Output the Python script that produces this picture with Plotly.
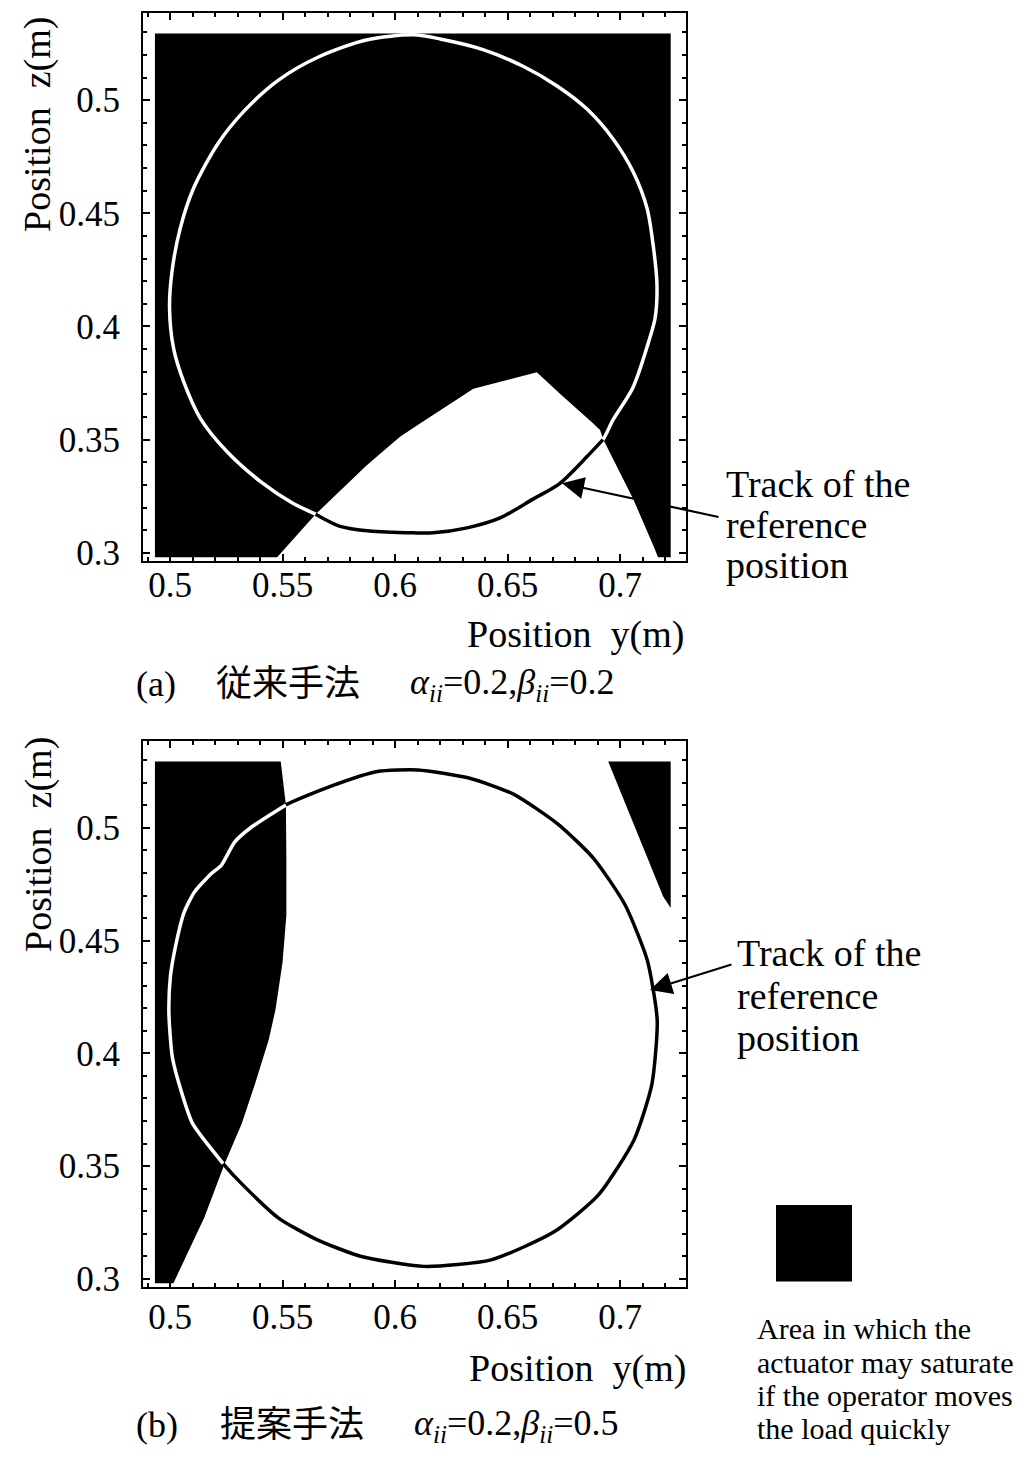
import plotly.graph_objects as go

W, H = 1026, 1461
def px(x):
    return x / W
def py(y):
    return 1 - y / H

# ---------------- data ----------------
# axis ticks
tick_y_vals = [0.5, 0.55, 0.6, 0.65, 0.7]
tick_y_text = ["0.5", "0.55", "0.6", "0.65", "0.7"]
tick_z_vals = [0.3, 0.35, 0.4, 0.45, 0.5]
tick_z_text = ["0.3", "0.35", "0.4", "0.45", "0.5"]

# computed region bounds (position y, position z)
region_y_min, region_y_max = 0.4933, 0.7225
region_z_min, region_z_max = 0.298, 0.5295

# (a) conventional: boundary of the non-saturating (white) area at the bottom
a_free_y = [0.5476, 0.5647, 0.5872, 0.6022, 0.6111, 0.6348, 0.6378, 0.6592, 0.6630,
            0.6733, 0.6881, 0.6911, 0.6926, 0.7059, 0.7148, 0.7169]
a_free_z = [0.298, 0.3170, 0.3385, 0.3513, 0.3571, 0.3725, 0.3732, 0.3788, 0.3798,
            0.3703, 0.3571, 0.3543, 0.3499, 0.3236, 0.3031, 0.298]

# (a) track of the reference position
a_track_y = [0.6082, 0.6200, 0.6391, 0.6569, 0.6720, 0.6853, 0.6969, 0.7058, 0.7120,
             0.7147, 0.7164, 0.7156, 0.7133, 0.7058, 0.6969, 0.6924, 0.6853, 0.6733,
             0.6613, 0.6467, 0.6320, 0.6169, 0.6082, 0.5887, 0.5752, 0.5647, 0.5542,
             0.5407, 0.5256, 0.5136, 0.5061, 0.5016, 0.4998, 0.5009, 0.5046, 0.5106,
             0.5212, 0.5332, 0.5482, 0.5662, 0.5872, 0.6082]
a_track_z = [0.5289, 0.5271, 0.5224, 0.5150, 0.5063, 0.4961, 0.4829, 0.4684, 0.4522,
             0.4360, 0.4184, 0.4039, 0.3952, 0.3732, 0.3588, 0.3500, 0.3425, 0.3307,
             0.3237, 0.3154, 0.3110, 0.3088, 0.3088, 0.3096, 0.3118, 0.3170, 0.3221,
             0.3311, 0.3444, 0.3592, 0.3755, 0.3903, 0.4081, 0.4244, 0.4436, 0.4614,
             0.4807, 0.4955, 0.5089, 0.5192, 0.5266, 0.5289]

# (b) proposed: left saturating area (right boundary, top to bottom)
b_left_edge_y = [0.5492, 0.5515, 0.5517, 0.5517, 0.5500, 0.5469, 0.5439, 0.5379,
                 0.5319, 0.5243, 0.5153, 0.5015]
b_left_edge_z = [0.5295, 0.5102, 0.4879, 0.4611, 0.4403, 0.4195, 0.4061, 0.3868,
                 0.3689, 0.3511, 0.3273, 0.298]
# (b) small saturating area at top right
b_right_y = [0.6947, 0.7225, 0.7225, 0.7209, 0.7191]
b_right_z = [0.5295, 0.5295, 0.4645, 0.4667, 0.4697]

# (b) track of the reference position
b_track_y = [0.6102, 0.6328, 0.6526, 0.6724, 0.6884, 0.7022, 0.7121, 0.7165, 0.7141,
             0.7062, 0.6903, 0.6705, 0.6427, 0.6129, 0.5846, 0.5650, 0.5484, 0.5319,
             0.5236, 0.5100, 0.5048, 0.5010, 0.4995, 0.5002, 0.5025, 0.5063, 0.5108,
             0.5183, 0.5228, 0.5288, 0.5364, 0.5515, 0.5710, 0.5921, 0.6102]
b_track_z = [0.5257, 0.5221, 0.5150, 0.5017, 0.4863, 0.4659, 0.4413, 0.4147, 0.3861,
             0.3616, 0.3371, 0.3207, 0.3084, 0.3055, 0.3100, 0.3175, 0.3268, 0.3421,
             0.3511, 0.3689, 0.3838, 0.3986, 0.4180, 0.4343, 0.4477, 0.4626, 0.4715,
             0.4797, 0.4834, 0.4938, 0.5005, 0.5102, 0.5183, 0.5250, 0.5257]

# arrow targets (points on the tracks)
a_arrow_y, a_arrow_z = 0.6742, 0.3307
b_arrow_y, b_arrow_z = 0.7133, 0.4281

# texts
track_label_lines = ["Track of the", "reference", "position"]
legend_lines = ["Area in which the", "actuator may saturate",
                "if the operator moves", "the load quickly"]

# ---------------- figure ----------------
SERIF = "Liberation Serif, Times New Roman, serif"
CJK = "Liberation Serif, Noto Sans CJK JP, serif"

fig = go.Figure()

# (a) saturating area = region minus the white area
a_sat_y = [region_y_min, region_y_min, region_y_max, region_y_max] + a_free_y[::-1]
a_sat_z = [region_z_min, region_z_max, region_z_max, region_z_min] + a_free_z[::-1]
fig.add_trace(go.Scatter(x=a_sat_y, y=a_sat_z, mode="lines", fill="toself",
                         fillcolor="black", line=dict(color="black", width=0),
                         xaxis="x", yaxis="y", hoverinfo="skip"))
fig.add_trace(go.Scatter(x=a_track_y, y=a_track_z, mode="lines",
                         line=dict(color="white", width=3.5, shape="spline", smoothing=0.8),
                         xaxis="x", yaxis="y"))
fig.add_trace(go.Scatter(x=a_track_y[15:26], y=a_track_z[15:26], mode="lines",
                         line=dict(color="black", width=3.5, shape="spline", smoothing=0.8),
                         xaxis="x", yaxis="y"))

# (b)
b_sat_y = [region_y_min, region_y_min] + b_left_edge_y
b_sat_z = [region_z_min, region_z_max] + b_left_edge_z
fig.add_trace(go.Scatter(x=b_sat_y, y=b_sat_z, mode="lines", fill="toself",
                         fillcolor="black", line=dict(color="black", width=0),
                         xaxis="x2", yaxis="y2", hoverinfo="skip"))
fig.add_trace(go.Scatter(x=b_right_y, y=b_right_z, mode="lines", fill="toself",
                         fillcolor="black", line=dict(color="black", width=0),
                         xaxis="x2", yaxis="y2", hoverinfo="skip"))
fig.add_trace(go.Scatter(x=b_track_y, y=b_track_z, mode="lines",
                         line=dict(color="black", width=3.5, shape="spline", smoothing=0.6),
                         xaxis="x2", yaxis="y2"))
fig.add_trace(go.Scatter(x=b_track_y[18:32], y=b_track_z[18:32], mode="lines",
                         line=dict(color="white", width=3.5, shape="spline", smoothing=0.6),
                         xaxis="x2", yaxis="y2"))

xdom = [px(143), px(686)]
xr = [0.488, 0.7293]
yr = [0.2962, 0.5386]

def xaxis_cfg(anchor, standoff):
    return dict(domain=xdom, range=xr, anchor=anchor, showgrid=False, zeroline=False,
                showline=True, linecolor="black", linewidth=2, mirror="allticks",
                ticks="inside", ticklen=7, tickwidth=2, tickcolor="black",
                tickmode="array", tickvals=tick_y_vals, ticktext=tick_y_text,
                ticklabelstandoff=standoff,
                minor=dict(ticks="inside", ticklen=4, tickwidth=1.5, tickcolor="black",
                           tickmode="linear", tick0=0.5, dtick=0.01),
                tickfont=dict(family=SERIF, size=35, color="black"))

def yaxis_cfg(anchor, dom):
    return dict(domain=dom, range=yr, anchor=anchor, showgrid=False, zeroline=False,
                showline=True, linecolor="black", linewidth=2, mirror="allticks",
                ticks="inside", ticklen=7, tickwidth=2, tickcolor="black",
                tickmode="array", tickvals=tick_z_vals, ticktext=tick_z_text,
                ticklabelstandoff=14,
                minor=dict(ticks="inside", ticklen=4, tickwidth=1.5, tickcolor="black",
                           tickmode="linear", tick0=0.3, dtick=0.01),
                tickfont=dict(family=SERIF, size=35, color="black"))

fig.update_layout(
    width=W, height=H, autosize=False, margin=dict(l=0, r=0, t=0, b=0),
    paper_bgcolor="white", plot_bgcolor="white", showlegend=False,
    xaxis=xaxis_cfg("y", -8), yaxis=yaxis_cfg("x", [py(566), py(13)]),
    xaxis2=xaxis_cfg("y2", -2), yaxis2=yaxis_cfg("x2", [py(1298), py(747)]),
)

ann = []
def text(x, y, t, size=32, xanchor="left", yanchor="middle", angle=0, family=SERIF):
    ann.append(dict(x=px(x), y=py(y), xref="paper", yref="paper", text=t, showarrow=False,
                    xanchor=xanchor, yanchor=yanchor, textangle=angle, align="left",
                    font=dict(family=family, size=size, color="black")))

# axis titles
text(38, 126, "Position\u00a0\u00a0z(m)", size=38, xanchor="center", angle=-90)
text(38, 852, "Position\u00a0\u00a0z(m)", size=38, xanchor="center", angle=-90)
text(686, 640, "Position\u00a0\u00a0y(m)", size=38, xanchor="right")
text(688, 1380, "Position\u00a0\u00a0y(m)", size=38, xanchor="right")

# captions
alpha_beta = "<i>α</i><sub><i>ii</i></sub>=0.2,<i>β</i><sub><i>ii</i></sub>={}"
text(134, 690, "(a)", size=36)
text(214, 690, "従来手法", size=36, family=CJK)
text(408, 690, alpha_beta.format("0.2"), size=36)
text(134, 1437, "(b)", size=36)
text(218, 1437, "提案手法", size=36, family=CJK)
text(412, 1437, alpha_beta.format("0.5"), size=36)

# track labels
for i, line in enumerate(track_label_lines):
    text(724, 488 + 41 * i, line, size=38)
    text(735, 961 + 43 * i, line, size=38)

# legend text
for i, line in enumerate(legend_lines):
    text(755, 1340 + 33.5 * i, line, size=30)

# arrows
ann.append(dict(x=a_arrow_y, y=a_arrow_z, xref="x", yref="y", ax=158, ay=34,
                axref="pixel", ayref="pixel", text="", showarrow=True,
                arrowhead=2, arrowsize=2.0, arrowwidth=2.2, arrowcolor="black", standoff=0))
ann.append(dict(x=b_arrow_y, y=b_arrow_z, xref="x2", yref="y2", ax=83, ay=-26,
                axref="pixel", ayref="pixel", text="", showarrow=True,
                arrowhead=2, arrowsize=2.0, arrowwidth=2.2, arrowcolor="black", standoff=0))

fig.update_layout(annotations=ann)

# legend swatch
fig.add_shape(type="rect", xref="paper", yref="paper", x0=px(776), x1=px(852),
              y0=py(1292), y1=py(1215), fillcolor="black", line=dict(width=0))

fig.write_html("out.html", config={"displayModeBar": False, "responsive": False},
               post_script="document.body.style.margin='0';document.body.style.padding='0';"
                           "document.body.style.overflow='hidden';")
